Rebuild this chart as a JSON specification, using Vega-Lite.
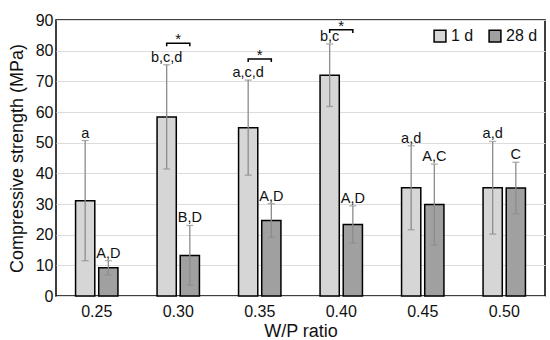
{
  "$schema": "https://vega.github.io/schema/vega-lite/v6.json",
  "width": 550,
  "height": 340,
  "autosize": {"type": "fit", "contains": "padding"},
  "padding": {"left": 8, "top": 12, "right": 5, "bottom": 0},
  "config": {
    "font": "Liberation Sans",
    "view": {"stroke": "black", "strokeWidth": 1.5},
    "axis": {"domain": false, "ticks": false, "tickSize": 0, "labelColor": "#111", "titleColor": "#111", "titleFontWeight": "normal", "labelOverlap": false}
  },
  "datasets": {
    "bars": [
      {"wp": "0.25", "age": "1 d", "mean": 31.1, "lo": 11.5, "hi": 50.7, "label": "a"},
      {"wp": "0.25", "age": "28 d", "mean": 9.2, "lo": 6.9, "hi": 11.5, "label": "A,D"},
      {"wp": "0.30", "age": "1 d", "mean": 58.4, "lo": 41.4, "hi": 75.4, "label": "b,c,d"},
      {"wp": "0.30", "age": "28 d", "mean": 13.2, "lo": 3.6, "hi": 23.0, "label": "B,D"},
      {"wp": "0.35", "age": "1 d", "mean": 54.9, "lo": 39.4, "hi": 70.4, "label": "a,c,d"},
      {"wp": "0.35", "age": "28 d", "mean": 24.6, "lo": 19.1, "hi": 30.1, "label": "A,D"},
      {"wp": "0.40", "age": "1 d", "mean": 72.0, "lo": 61.8, "hi": 82.2, "label": "b,c"},
      {"wp": "0.40", "age": "28 d", "mean": 23.3, "lo": 17.2, "hi": 29.4, "label": "A,D"},
      {"wp": "0.45", "age": "1 d", "mean": 35.3, "lo": 21.6, "hi": 49.0, "label": "a,d"},
      {"wp": "0.45", "age": "28 d", "mean": 29.8, "lo": 16.6, "hi": 43.0, "label": "A,C"},
      {"wp": "0.50", "age": "1 d", "mean": 35.3, "lo": 20.2, "hi": 50.4, "label": "a,d"},
      {"wp": "0.50", "age": "28 d", "mean": 35.2, "lo": 26.8, "hi": 43.6, "label": "C"}
    ],
    "brackets": [
      {"wp": "0.30", "age": "1 d", "y": 81.4, "ord": 1},
      {"wp": "0.30", "age": "1 d", "y": 82.4, "ord": 2},
      {"wp": "0.30", "age": "28 d", "y": 82.4, "ord": 3},
      {"wp": "0.30", "age": "28 d", "y": 81.4, "ord": 4},
      {"wp": "0.35", "age": "1 d", "y": 76.3, "ord": 1},
      {"wp": "0.35", "age": "1 d", "y": 77.3, "ord": 2},
      {"wp": "0.35", "age": "28 d", "y": 77.3, "ord": 3},
      {"wp": "0.35", "age": "28 d", "y": 76.3, "ord": 4},
      {"wp": "0.40", "age": "1 d", "y": 85.8, "ord": 1},
      {"wp": "0.40", "age": "1 d", "y": 86.8, "ord": 2},
      {"wp": "0.40", "age": "28 d", "y": 86.8, "ord": 3},
      {"wp": "0.40", "age": "28 d", "y": 85.8, "ord": 4}
    ],
    "stars": [
      {"wp": "0.30", "y": 82.4},
      {"wp": "0.35", "y": 77.3},
      {"wp": "0.40", "y": 86.8}
    ]
  },
  "encoding": {
    "x": {
      "field": "wp", "type": "nominal",
      "scale": {"paddingInner": 0.48, "paddingOuter": 0.24},
      "axis": {"title": "W/P ratio", "labelAngle": 0, "labelFontSize": 16, "titleFontSize": 18, "labelPadding": 7, "titlePadding": 3}
    }
  },
  "layer": [
    {
      "data": {"name": "bars"},
      "mark": {"type": "bar", "stroke": "black", "strokeWidth": 1.5},
      "encoding": {
        "xOffset": {"field": "age", "type": "nominal", "scale": {"paddingInner": 0.17, "paddingOuter": 0}},
        "y": {
          "field": "mean", "type": "quantitative",
          "scale": {"domain": [0, 90], "nice": false},
          "axis": {"title": "Compressive strength (MPa)", "values": [0,10,20,30,40,50,60,70,80,90], "labelOverlap": false, "labelFontSize": 16, "titleFontSize": 18, "labelPadding": 3, "titlePadding": 9, "gridColor": "#dcdcdc", "gridWidth": 1.2}
        },
        "fill": {
          "field": "age", "type": "nominal",
          "scale": {"domain": ["1 d", "28 d"], "range": ["#d6d6d6", "#a0a0a0"]},
          "legend": {
            "title": null, "orient": "none", "direction": "horizontal",
            "legendX": 376, "legendY": 8,
            "symbolType": "square", "symbolSize": 140, "symbolStrokeColor": "black", "symbolStrokeWidth": 1.5,
            "labelFontSize": 16, "labelOffset": 3, "columnPadding": 12, "labelColor": "#111"
          }
        }
      }
    },
    {
      "data": {"name": "bars"},
      "mark": {"type": "rule", "color": "#8c8c8c", "strokeWidth": 1.3},
      "encoding": {
        "xOffset": {"field": "age", "type": "nominal"},
        "y": {"field": "lo", "type": "quantitative", "axis": {"title": "Compressive strength (MPa)", "values": [0,10,20,30,40,50,60,70,80,90], "labelOverlap": false}},
        "y2": {"field": "hi"}
      }
    },
    {
      "data": {"name": "bars"},
      "mark": {"type": "tick", "color": "#8c8c8c", "thickness": 1.3, "size": 7, "orient": "horizontal"},
      "encoding": {
        "xOffset": {"field": "age", "type": "nominal"},
        "y": {"field": "hi", "type": "quantitative", "axis": {"title": "Compressive strength (MPa)", "values": [0,10,20,30,40,50,60,70,80,90], "labelOverlap": false}}
      }
    },
    {
      "data": {"name": "bars"},
      "mark": {"type": "tick", "color": "#8c8c8c", "thickness": 1.3, "size": 7, "orient": "horizontal"},
      "encoding": {
        "xOffset": {"field": "age", "type": "nominal"},
        "y": {"field": "lo", "type": "quantitative", "axis": {"title": "Compressive strength (MPa)", "values": [0,10,20,30,40,50,60,70,80,90], "labelOverlap": false}}
      }
    },
    {
      "data": {"name": "bars"},
      "mark": {"type": "text", "fontSize": 14.5, "baseline": "alphabetic", "dy": -3, "color": "#111"},
      "encoding": {
        "xOffset": {"field": "age", "type": "nominal"},
        "y": {"field": "hi", "type": "quantitative", "axis": {"title": "Compressive strength (MPa)", "values": [0,10,20,30,40,50,60,70,80,90], "labelOverlap": false}},
        "text": {"field": "label"}
      }
    },
    {
      "data": {"name": "brackets"},
      "mark": {"type": "line", "color": "black", "strokeWidth": 1.5},
      "encoding": {
        "xOffset": {"field": "age", "type": "nominal"},
        "y": {"field": "y", "type": "quantitative", "axis": {"title": "Compressive strength (MPa)", "values": [0,10,20,30,40,50,60,70,80,90], "labelOverlap": false}},
        "detail": {"field": "wp"},
        "order": {"field": "ord"}
      }
    },
    {
      "data": {"name": "stars"},
      "mark": {"type": "text", "fontSize": 15, "baseline": "alphabetic", "dy": 1, "text": "*", "color": "#111"},
      "encoding": {
        "y": {"field": "y", "type": "quantitative", "axis": {"title": "Compressive strength (MPa)", "values": [0,10,20,30,40,50,60,70,80,90], "labelOverlap": false}}
      }
    }
  ]
}
